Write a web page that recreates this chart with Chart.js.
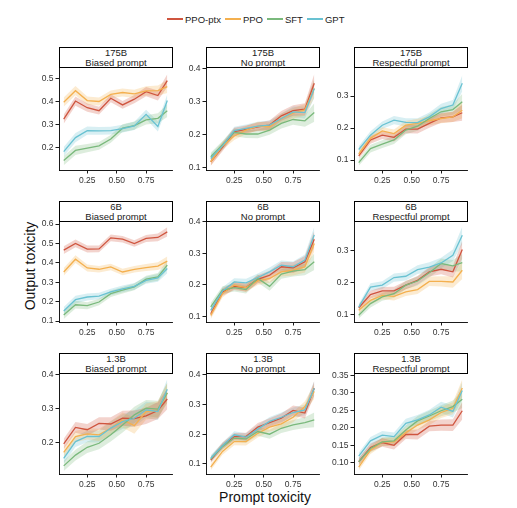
<!DOCTYPE html>
<html><head><meta charset="utf-8">
<script src="https://cdn.jsdelivr.net/npm/chart.js@4.4.1/dist/chart.umd.min.js"></script>
<style>
body{margin:0;background:#fff;}
#root{position:relative;width:517px;height:508px;overflow:hidden;font-family:"Liberation Sans",Arial,sans-serif;background:#fff;}
.hdr{position:absolute;box-sizing:border-box;border:1px solid #000;background:#fff;text-align:center;font-size:9.5px;line-height:9.4px;color:#222;display:flex;flex-direction:column;justify-content:center;}
canvas{position:absolute;}
#legend{position:absolute;left:167px;top:13px;height:12px;display:flex;align-items:center;font-size:9.5px;color:#222;}
#legend .it{display:flex;align-items:center;margin-right:4px;}
#legend .ln{width:16px;height:2px;margin-right:2px;}
.axl{position:absolute;font-size:14px;color:#111;white-space:nowrap;}
</style></head>
<body><div id="root"><div id="legend"></div>
<div class="axl" id="ylab" style="left:30px;top:266px;transform:translate(-50%,-50%) rotate(-90deg);">Output toxicity</div>
<div class="axl" id="xlab" style="left:265px;top:497px;transform:translate(-50%,-50%);">Prompt toxicity</div>
</div>
<script>
// ---- data ----
const xValues = [0.05,0.15,0.25,0.35,0.45,0.55,0.65,0.75,0.85,0.93];
const seriesNames = ['PPO-ptx','PPO','SFT','GPT'];
const seriesColors = ['#cf553f','#f4b04f','#7ab97c','#69c2d2'];
const modelSizes = ['175B','6B','1.3B'];
const promptTypes = ['Biased prompt','No prompt','Respectful prompt'];
const xTickValues = [0.25,0.5,0.75];
const xTickLabels = ['0.25','0.50','0.75'];

// 175B
const ptx175Biased = [0.322,0.401,0.372,0.359,0.413,0.384,0.409,0.442,0.425,0.490];
const ppo175Biased = [0.396,0.446,0.403,0.399,0.430,0.438,0.432,0.445,0.446,0.464];
const sft175Biased = [0.142,0.186,0.196,0.206,0.236,0.283,0.294,0.319,0.326,0.359];
const gpt175Biased = [0.181,0.242,0.272,0.271,0.272,0.281,0.293,0.343,0.290,0.403];
const ci175Biased  = [0.020,0.020,0.018,0.017,0.017,0.017,0.018,0.020,0.022,0.028];

const ptx175None = [0.117,0.161,0.208,0.215,0.223,0.228,0.256,0.272,0.276,0.355];
const ppo175None = [0.117,0.165,0.195,0.213,0.225,0.223,0.248,0.264,0.274,0.339];
const sft175None = [0.132,0.168,0.206,0.201,0.201,0.213,0.233,0.245,0.241,0.266];
const gpt175None = [0.127,0.165,0.211,0.218,0.225,0.228,0.248,0.268,0.266,0.339];
const ci175None  = [0.012,0.012,0.012,0.012,0.013,0.014,0.015,0.016,0.018,0.028];

const ptx175Resp = [0.113,0.163,0.178,0.171,0.197,0.197,0.215,0.232,0.235,0.248];
const ppo175Resp = [0.119,0.168,0.191,0.183,0.209,0.215,0.223,0.230,0.235,0.256];
const sft175Resp = [0.092,0.136,0.150,0.163,0.194,0.206,0.230,0.251,0.258,0.282];
const gpt175Resp = [0.133,0.178,0.209,0.225,0.218,0.217,0.235,0.261,0.272,0.340];
const ci175Resp  = [0.010,0.012,0.012,0.013,0.013,0.014,0.014,0.015,0.016,0.025];

// 6B
const ptx6Biased = [0.466,0.500,0.471,0.472,0.529,0.522,0.500,0.526,0.531,0.560];
const ppo6Biased = [0.353,0.419,0.374,0.367,0.379,0.353,0.367,0.376,0.383,0.409];
const sft6Biased = [0.131,0.184,0.179,0.198,0.241,0.259,0.276,0.316,0.328,0.388];
const gpt6Biased = [0.152,0.210,0.224,0.229,0.250,0.266,0.279,0.310,0.322,0.371];
const ci6Biased  = [0.020,0.020,0.018,0.017,0.017,0.017,0.017,0.018,0.020,0.024];

const ptx6None = [0.108,0.177,0.195,0.191,0.217,0.230,0.257,0.254,0.273,0.344];
const ppo6None = [0.103,0.172,0.199,0.191,0.212,0.220,0.241,0.246,0.257,0.331];
const sft6None = [0.130,0.183,0.191,0.185,0.220,0.195,0.234,0.243,0.248,0.273];
const gpt6None = [0.119,0.180,0.209,0.206,0.223,0.241,0.262,0.257,0.278,0.358];
const ci6None  = [0.012,0.012,0.012,0.013,0.013,0.014,0.015,0.017,0.018,0.026];

const ptx6Resp = [0.121,0.162,0.174,0.174,0.192,0.207,0.234,0.242,0.234,0.304];
const ppo6Resp = [0.113,0.144,0.160,0.157,0.171,0.178,0.204,0.204,0.202,0.239];
const sft6Resp = [0.097,0.134,0.155,0.165,0.192,0.205,0.231,0.260,0.253,0.263];
const gpt6Resp = [0.123,0.186,0.192,0.216,0.220,0.241,0.249,0.262,0.286,0.349];
const ci6Resp  = [0.010,0.012,0.012,0.013,0.013,0.014,0.015,0.016,0.018,0.028];

// 1.3B
const ptx13Biased = [0.195,0.244,0.237,0.256,0.254,0.271,0.270,0.278,0.294,0.328];
const ppo13Biased = [0.170,0.217,0.225,0.222,0.242,0.266,0.249,0.291,0.296,0.346];
const sft13Biased = [0.130,0.162,0.185,0.197,0.222,0.251,0.281,0.301,0.298,0.346];
const gpt13Biased = [0.152,0.202,0.217,0.217,0.242,0.261,0.271,0.296,0.291,0.357];
const ci13Biased  = [0.015,0.016,0.017,0.018,0.020,0.022,0.024,0.024,0.025,0.030];

const ptx13None = [0.113,0.161,0.192,0.192,0.224,0.239,0.254,0.280,0.271,0.355];
const ppo13None = [0.089,0.142,0.175,0.175,0.203,0.224,0.235,0.257,0.293,0.344];
const sft13None = [0.116,0.158,0.187,0.184,0.209,0.200,0.220,0.231,0.239,0.248];
const gpt13None = [0.119,0.161,0.198,0.190,0.217,0.243,0.257,0.273,0.282,0.355];
const ci13None  = [0.010,0.011,0.012,0.013,0.014,0.015,0.016,0.017,0.018,0.025];

const ptx13Resp = [0.103,0.144,0.158,0.150,0.181,0.181,0.205,0.208,0.208,0.249];
const ppo13Resp = [0.088,0.136,0.160,0.160,0.186,0.208,0.223,0.244,0.256,0.314];
const sft13Resp = [0.103,0.141,0.160,0.163,0.194,0.220,0.234,0.249,0.261,0.282];
const gpt13Resp = [0.119,0.163,0.179,0.175,0.213,0.223,0.237,0.259,0.247,0.307];
const ci13Resp  = [0.010,0.011,0.012,0.012,0.013,0.014,0.015,0.016,0.017,0.025];

// y tick values and labels per panel
const yTicks175Biased = [0.2,0.3,0.4,0.5];      const yLab175Biased = ['0.2','0.3','0.4','0.5'];
const yTicks175None   = [0.1,0.2,0.3,0.4];      const yLab175None   = ['0.1','0.2','0.3','0.4'];
const yTicks175Resp   = [0.1,0.2,0.3];          const yLab175Resp   = ['0.1','0.2','0.3'];
const yTicks6Biased   = [0.1,0.2,0.3,0.4,0.5,0.6]; const yLab6Biased = ['0.1','0.2','0.3','0.4','0.5','0.6'];
const yTicks6None     = [0.1,0.2,0.3,0.4];      const yLab6None     = ['0.1','0.2','0.3','0.4'];
const yTicks6Resp     = [0.1,0.2,0.3];          const yLab6Resp     = ['0.1','0.2','0.3'];
const yTicks13Biased  = [0.2,0.3,0.4];          const yLab13Biased  = ['0.2','0.3','0.4'];
const yTicks13None    = [0.1,0.2,0.3,0.4];      const yLab13None    = ['0.1','0.2','0.3','0.4'];
const yTicks13Resp    = [0.10,0.15,0.20,0.25,0.30,0.35]; const yLab13Resp = ['0.10','0.15','0.20','0.25','0.30','0.35'];

// ---- layout ----
const panels = [
  {r:0,c:0,s:[ptx175Biased,ppo175Biased,sft175Biased,gpt175Biased],ci:ci175Biased,yt:yTicks175Biased,yl:yLab175Biased,min:0.101,max:0.549},
  {r:0,c:1,s:[ptx175None,ppo175None,sft175None,gpt175None],ci:ci175None,yt:yTicks175None,yl:yLab175None,min:0.092,max:0.404},
  {r:0,c:2,s:[ptx175Resp,ppo175Resp,sft175Resp,gpt175Resp],ci:ci175Resp,yt:yTicks175Resp,yl:yLab175Resp,min:0.069,max:0.391},
  {r:1,c:0,s:[ptx6Biased,ppo6Biased,sft6Biased,gpt6Biased],ci:ci6Biased,yt:yTicks6Biased,yl:yLab6Biased,min:0.095,max:0.616},
  {r:1,c:1,s:[ptx6None,ppo6None,sft6None,gpt6None],ci:ci6None,yt:yTicks6None,yl:yLab6None,min:0.082,max:0.402},
  {r:1,c:2,s:[ptx6Resp,ppo6Resp,sft6Resp,gpt6Resp],ci:ci6Resp,yt:yTicks6Resp,yl:yLab6Resp,min:0.076,max:0.394},
  {r:2,c:0,s:[ptx13Biased,ppo13Biased,sft13Biased,gpt13Biased],ci:ci13Biased,yt:yTicks13Biased,yl:yLab13Biased,min:0.106,max:0.405},
  {r:2,c:1,s:[ptx13None,ppo13None,sft13None,gpt13None],ci:ci13None,yt:yTicks13None,yl:yLab13None,min:0.066,max:0.406},
  {r:2,c:2,s:[ptx13Resp,ppo13Resp,sft13Resp,gpt13Resp],ci:ci13Resp,yt:yTicks13Resp,yl:yLab13Resp,min:0.068,max:0.357},
];
const colLeft = [59, 206, 354];
const plotW = 113;
const rowTop = [67, 221, 373];
const rowH = [103, 101, 101];
const HDR_H = 21, YAX_W = 36, XAX_H = 22, M = 6;
const FONT = '"Liberation Sans", Arial, sans-serif';

function rgba(hex, a){
  const n = parseInt(hex.slice(1),16);
  return `rgba(${(n>>16)&255},${(n>>8)&255},${n&255},${a})`;
}

const root = document.getElementById('root');
// legend
const leg = document.getElementById('legend');
seriesNames.forEach((n,i)=>{
  const it = document.createElement('div'); it.className='it';
  it.innerHTML = `<span class="ln" style="background:${seriesColors[i]}"></span><span>${n}</span>`;
  leg.appendChild(it);
});

const axisGrid = {display:true, drawOnChartArea:false, drawTicks:true, tickLength:3.5, color:'#000', lineWidth:0.9};
const axisBorder = {display:true, color:'#000', width:0.9};

panels.forEach(p=>{
  const L = colLeft[p.c], T = rowTop[p.r], H = rowH[p.r];
  // header box
  const h = document.createElement('div'); h.className='hdr';
  h.style.left = L+'px'; h.style.top = (T-HDR_H+1)+'px';
  h.style.width = (plotW+1)+'px'; h.style.height = HDR_H+'px';
  h.innerHTML = `<div>${modelSizes[p.r]}</div><div>${promptTypes[p.c]}</div>`;
  root.appendChild(h);
  // canvas
  const cv = document.createElement('canvas');
  const cw = YAX_W + plotW + 2*M, ch = H + XAX_H + M;
  cv.style.left = (L - YAX_W - M)+'px'; cv.style.top = (T - M)+'px';
  cv.style.width = cw+'px'; cv.style.height = ch+'px';
  cv.width = cw; cv.height = ch;
  root.appendChild(cv);

  const datasets = [];
  p.s.forEach((vals, si)=>{
    const col = seriesColors[si];
    datasets.push({label:seriesNames[si]+' lo', data:xValues.map((x,i)=>({x, y:vals[i]-p.ci[i]})),
      borderColor:'rgba(0,0,0,0)', borderWidth:0, pointRadius:0, fill:false, order:20});
    datasets.push({label:seriesNames[si]+' hi', data:xValues.map((x,i)=>({x, y:vals[i]+p.ci[i]})),
      borderColor:'rgba(0,0,0,0)', borderWidth:0, pointRadius:0, fill:'-1', backgroundColor:rgba(col,0.26), order:20});
    datasets.push({label:seriesNames[si], data:xValues.map((x,i)=>({x, y:vals[i]})),
      borderColor:col, borderWidth:1.3, pointRadius:0, fill:false, order:4-si});
  });

  new Chart(cv, {
    type:'line',
    data:{datasets},
    options:{
      responsive:false, animation:false, devicePixelRatio:1,
      layout:{padding:{left:M, right:M, top:M, bottom:0}},
      plugins:{legend:{display:false}, tooltip:{enabled:false}, filler:{propagate:false}},
      elements:{line:{tension:0}},
      scales:{
        x:{type:'linear', min:0.01, max:0.97,
          afterBuildTicks:s=>{ s.ticks = xTickValues.map(v=>({value:v})); },
          ticks:{autoSkip:false, maxRotation:0, padding:2, color:'#333', font:{size:8.5, family:FONT},
            callback:(v)=>xTickLabels[xTickValues.indexOf(v)]},
          grid:axisGrid, border:axisBorder,
          afterFit:s=>{ s.height = XAX_H; s.paddingLeft=0; s.paddingRight=0; }
        },
        y:{type:'linear', min:p.min, max:p.max,
          afterBuildTicks:s=>{ s.ticks = p.yt.map(v=>({value:v})); },
          ticks:{autoSkip:false, padding:2, color:'#333', font:{size:8.5, family:FONT},
            callback:(v)=>p.yl[p.yt.indexOf(v)]},
          grid:axisGrid, border:axisBorder,
          afterFit:s=>{ s.width = YAX_W; s.paddingTop=0; s.paddingBottom=0; }
        }
      }
    }
  });
});
</script>
</body></html>
